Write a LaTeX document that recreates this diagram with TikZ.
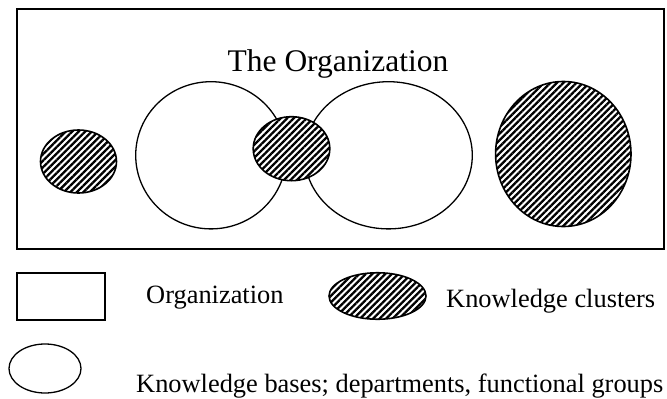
\documentclass[tikz,border=0pt]{standalone}
\usepackage{fontspec}
\setmainfont{Liberation Serif}
\usetikzlibrary{shapes.geometric,patterns.meta}
\tikzset{
  orgbox/.style={draw=black, line width=1.6pt},
  kbase/.style={draw=black, ellipse, line width=1.3pt, inner sep=0pt},
  kcluster/.style={draw=black, ellipse, line width=1.6pt, inner sep=0pt,
    preaction={fill=white},
    pattern={Lines[angle=45,distance=4.6pt,line width=2.3pt]}},
  legendtext/.style={font=\fontsize{26.4}{30}\selectfont, anchor=base west, inner sep=0pt},
}
\begin{document}
\begin{tikzpicture}[x=1pt,y=-1pt]
\useasboundingbox (0,0) rectangle (667,399);
% organization frame
\node[orgbox, minimum width=647pt, minimum height=240pt, inner sep=0pt] (org) at (340.5,129) {};
\node[font=\fontsize{31.5}{36}\selectfont, anchor=base, inner sep=0pt] (title) at (338,71) {The Organization};
% knowledge bases
\node[kbase, minimum width=150.6pt, minimum height=147.2pt] (kb1) at (211,155.3) {};
\node[kbase, minimum width=167.6pt, minimum height=147.2pt] (kb2) at (388.5,155.3) {};
% knowledge clusters
\node[kcluster, minimum width=76pt, minimum height=63pt] (kc1) at (78.5,161.5) {};
\node[kcluster, minimum width=76.6pt, minimum height=64pt] (kc2) at (291.5,148.7) {};
\node[kcluster, minimum width=135.4pt, minimum height=145pt] (kc3) at (563.3,154) {};
% legend
\node[orgbox, minimum width=88pt, minimum height=47pt, inner sep=0pt] (lrect) at (61,296.5) {};
\node[legendtext] (lorg) at (146,303.5) {Organization};
\node[kcluster, minimum width=97pt, minimum height=46.5pt] (lclus) at (377.5,296) {};
\node[legendtext] (lclust) at (446,307.5) {Knowledge clusters};
\node[kbase, minimum width=72pt, minimum height=49pt] (lbase) at (45,368.5) {};
\node[legendtext] (lbases) at (136,392.5) {Knowledge bases; departments, functional groups};
\end{tikzpicture}
\end{document}
